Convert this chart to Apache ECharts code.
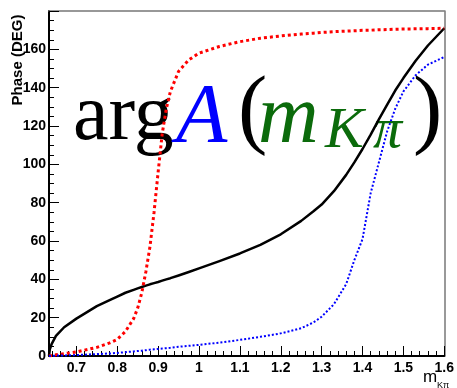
<!DOCTYPE html>
<html>
<head>
<meta charset="utf-8">
<script src="https://cdn.jsdelivr.net/npm/echarts@6/dist/echarts.min.js"></script>
<style>
  html, body { margin: 0; padding: 0; background: #fff; }
  #chart { width: 457px; height: 388px; }
</style>
</head>
<body>
<div id="chart"></div>
<script>
// K-pi invariant mass (GeV) sampling points
const mass = [0.633, 0.635, 0.64, 0.65, 0.67, 0.70, 0.75, 0.78, 0.80, 0.82, 0.84, 0.85, 0.86, 0.87,
  0.88, 0.89, 0.90, 0.91, 0.92, 0.93, 0.95, 0.975, 1.00, 1.05, 1.10, 1.15, 1.20, 1.25, 1.28, 1.30,
  1.33, 1.36, 1.38, 1.40, 1.42, 1.44, 1.46, 1.48, 1.50, 1.53, 1.56, 1.60];

// total phase (solid black)
const phaseTotal = [0, 3.5, 6.5, 10.5, 15, 19.5, 26, 29, 31, 33, 34.5, 35.3, 36, 36.7,
  37.4, 38, 38.6, 39.3, 40, 40.6, 42, 43.8, 45.7, 49.5, 53.5, 58, 63.5, 70.5, 75.5, 79,
  86, 94.5, 101, 108, 115.5, 123.5, 131, 138.5, 145, 154, 162, 171];

// K*(892) phase (red dotted)
const phaseKstar = [0, 0.1, 0.3, 0.6, 1.2, 2.1, 4.5, 6.7, 8.7, 12.8, 19.5, 25, 33, 44,
  57, 75, 96, 116, 129, 138, 148.5, 154.5, 158, 161.5, 164, 165.8, 167, 168, 168.4, 168.8,
  169.2, 169.5, 169.7, 169.9, 170, 170.2, 170.3, 170.5, 170.6, 170.7, 170.8, 171];

// K*0(1430) phase (blue dotted)
const phaseK1430 = [0, 0, 0.1, 0.2, 0.3, 0.5, 1.0, 1.3, 1.6, 2, 2.4, 2.6, 2.8, 3.0,
  3.3, 3.5, 3.7, 3.9, 4.1, 4.3, 4.8, 5.3, 5.8, 7, 8.4, 10, 11.8, 14.5, 17.5, 20.5,
  27, 37.5, 50, 61, 85, 101, 117, 129, 138, 146.5, 152, 156];

// axis ticks
const xMajorTicks = [0.7, 0.8, 0.9, 1, 1.1, 1.2, 1.3, 1.4, 1.5, 1.6];
const xMinorTicks = [];
for (let k = 32; k <= 79; k++) {
  if (k % 5 !== 0) xMinorTicks.push(k / 50);
}
const xMin = 0.633, xMax = 1.6;
const yMin = 0, yMax = 180, yStep = 20;

const pair = (ys) => mass.map((m, i) => [m, ys[i]]);

const labelFont = { fontFamily: 'Liberation Sans', fontWeight: 'bold', fontSize: 14, color: '#000' };
const serif = 'Liberation Serif';

const chart = echarts.init(document.getElementById('chart'), null, { renderer: 'canvas' });
chart.setOption({
  animation: false,
  backgroundColor: '#fff',
  grid: { left: 49, right: 10, top: 11, bottom: 32, containLabel: false },
  xAxis: [
    {
      type: 'value', min: xMin, max: xMax, position: 'bottom',
      axisLine: { show: true, onZero: false, lineStyle: { color: '#000', width: 2 } },
      axisTick: { show: true, inside: true, length: 10, customValues: xMajorTicks, lineStyle: { color: '#000', width: 1 } },
      axisLabel: Object.assign({ show: true, margin: 5, customValues: xMajorTicks }, labelFont),
      splitLine: { show: false }
    },
    {
      type: 'value', min: xMin, max: xMax, position: 'bottom',
      axisLine: { show: false },
      axisTick: { show: true, inside: true, length: 5, customValues: xMinorTicks, lineStyle: { color: '#000', width: 1 } },
      axisLabel: { show: false },
      splitLine: { show: false }
    },
    {
      type: 'value', min: xMin, max: xMax, position: 'top',
      axisLine: { show: true, onZero: false, lineStyle: { color: '#777', width: 1.5 } },
      axisTick: { show: false }, axisLabel: { show: false }, splitLine: { show: false }
    }
  ],
  yAxis: [
    {
      type: 'value', min: yMin, max: yMax, interval: yStep, position: 'left',
      axisLine: { show: true, onZero: false, lineStyle: { color: '#000', width: 2 } },
      axisTick: { show: true, inside: true, length: 10, lineStyle: { color: '#000', width: 1 } },
      minorTick: { show: true, splitNumber: 4, length: 5, lineStyle: { color: '#000', width: 1 } },
      axisLabel: Object.assign({ show: true, margin: 3, showMaxLabel: false }, labelFont),
      splitLine: { show: false }
    },
    {
      type: 'value', min: yMin, max: yMax, position: 'right',
      axisLine: { show: true, onZero: false, lineStyle: { color: '#777', width: 1.5 } },
      axisTick: { show: false }, axisLabel: { show: false }, splitLine: { show: false }
    }
  ],
  series: [
    {
      type: 'line', xAxisIndex: 0, yAxisIndex: 0, data: pair(phaseTotal),
      showSymbol: false, smooth: false,
      lineStyle: { color: '#000', width: 2.5, join: 'round' }
    },
    {
      type: 'line', xAxisIndex: 0, yAxisIndex: 0, data: pair(phaseKstar),
      showSymbol: false, smooth: false,
      lineStyle: { color: '#ff0000', width: 3, type: [3, 3] }
    },
    {
      type: 'line', xAxisIndex: 0, yAxisIndex: 0, data: pair(phaseK1430),
      showSymbol: false, smooth: false,
      lineStyle: { color: '#0000ff', width: 2, type: [2, 2] }
    }
  ],
  graphic: [
    // formula: arg A(m_Kpi)
    { type: 'text', z: 0, left: 73, top: 78, style: { text: 'arg', font: `80px "${serif}"`, fill: '#000' } },
    { type: 'text', z: 0, left: 176, top: 78, style: { text: 'A', font: `italic 84px "${serif}"`, fill: '#0000ff' } },
    { type: 'text', z: 0, left: 238, top: 70, style: { text: '(', font: `88px "${serif}"`, fill: '#000' } },
    { type: 'text', z: 0, left: 258, top: 78, style: { text: 'm', font: `italic 84px "${serif}"`, fill: '#0b6b0b' } },
    { type: 'text', z: 0, left: 325, top: 103, style: { text: 'K', font: `italic 58px "${serif}"`, fill: '#0b6b0b' } },
    { type: 'text', z: 0, left: 373, top: 103, style: { text: 'π', font: `italic 58px "${serif}"`, fill: '#0b6b0b' } },
    { type: 'text', z: 0, left: 413, top: 70, style: { text: ')', font: `88px "${serif}"`, fill: '#000' } },
    // axis titles
    {
      type: 'text', z: 0, x: 18, y: 60, rotation: Math.PI / 2,
      style: { text: 'Phase (DEG)', font: 'bold 15px "Liberation Sans"', fill: '#000', align: 'center', verticalAlign: 'middle' }
    },
    { type: 'text', z: 0, left: 423, top: 369, style: { text: 'm', font: '17px "Liberation Sans"', fill: '#000' } },
    { type: 'text', z: 0, left: 437, top: 381, style: { text: 'Kπ', font: '9px "Liberation Sans"', fill: '#000' } }
  ]
});
</script>
</body>
</html>
